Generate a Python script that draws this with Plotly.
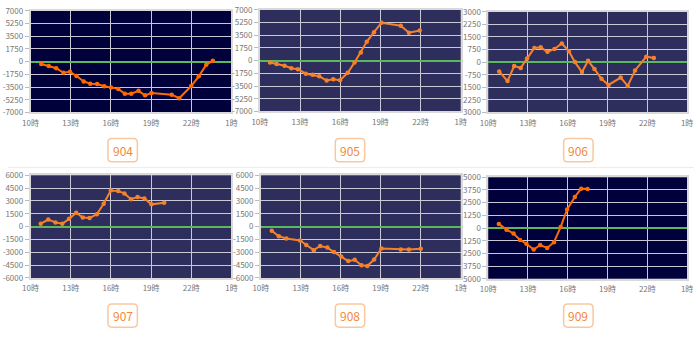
import plotly.graph_objects as go

W, H = 700, 339

# ---------------- data ----------------
x_tickvals = [10, 13, 16, 19, 22, 25]
x_ticktext = ["10時", "13時", "16時", "19時", "22時", "1時"]

labels = ["904", "905", "906", "907", "908", "909"]

t904 = [10.80, 11.36, 11.92, 12.46, 12.95, 13.43, 13.97, 14.46, 14.97, 15.50, 16.01, 16.55,
        17.04, 17.52, 18.06, 18.55, 19.03, 20.54, 21.10, 22.00, 22.56, 23.12, 23.61]
v904 = [-333, -600, -911, -1533, -1400, -1978, -2733, -3044, -3089, -3400, -3578, -3756,
        -4422, -4422, -4022, -4644, -4333, -4556, -5044, -3356, -2022, -422, 111]

t905 = [10.76, 11.25, 11.84, 12.35, 12.84, 13.43, 13.94, 14.43, 14.99, 15.48, 15.99, 16.56,
        17.07, 17.54, 17.98, 18.52, 19.08, 20.52, 21.13, 21.94]
v905 = [-244, -467, -689, -1044, -1178, -1800, -1933, -2156, -2733, -2556, -2689, -1667,
        -244, 1133, 2600, 3933, 5222, 4822, 3844, 4156]

t906 = [10.83, 11.46, 11.96, 12.45, 12.93, 13.48, 13.96, 14.47, 15.00, 15.55, 16.08, 16.54,
        17.07, 17.53, 18.01, 18.54, 19.07, 19.99, 20.52, 21.07, 21.92, 22.49]
v906 = [-556, -1131, -230, -345, 211, 843, 882, 613, 786, 1112, 652, 0,
        -594, 77, -403, -997, -1361, -920, -1418, -498, 326, 249]

t907 = [10.76, 11.32, 11.86, 12.37, 12.88, 13.41, 13.90, 14.41, 14.95, 15.46, 15.99, 16.55,
        17.01, 17.50, 17.99, 18.50, 19.03, 19.98]
v907 = [340, 830, 491, 340, 906, 1623, 1057, 1019, 1434, 2680, 4227, 4151,
        3887, 3208, 3472, 3283, 2604, 2793]

t908 = [10.82, 11.35, 11.91, 12.95, 13.41, 13.97, 14.45, 14.99, 15.49, 16.03, 16.56, 17.04,
        17.55, 17.99, 18.50, 19.05, 20.50, 21.11, 22.00]
v908 = [-491, -1132, -1396, -1623, -2151, -2755, -2264, -2453, -2981, -3510, -4038, -3887,
        -4529, -4604, -3849, -2566, -2680, -2680, -2604]

t909 = [10.80, 11.38, 11.91, 12.40, 12.88, 13.43, 13.92, 14.45, 14.96, 15.46, 15.95, 16.53,
        17.01, 17.49]
v909 = [410, -158, -536, -1167, -1546, -2114, -1672, -1956, -1388, 95, 1830, 3060,
        3881, 3849]

yv_7000 = [-7000, -5250, -3500, -1750, 0, 1750, 3500, 5250, 7000]
yt_7000 = ["-7000", "-5250", "-3500", "-1750", "0", "1750", "3500", "5250", "7000"]
yv_3000 = [-3000, -2250, -1500, -750, 0, 750, 1500, 2250, 3000]
yt_3000 = ["3000", "2250", "1500", "-750", "0", "750", "1500", "2250", "3000"]
yv_6000 = [-6000, -4500, -3000, -1500, 0, 1500, 3000, 4500, 6000]
yt_6000 = ["-6000", "-4500", "-3000", "-1500", "0", "1500", "3000", "4500", "6000"]
yv_5000 = [-5000, -3750, -2500, -1250, 0, 1250, 2500, 3750, 5000]
yt_5000 = ["5000", "3750", "2500", "1250", "0", "1250", "2500", "3750", "5000"]

series = [(t904, v904), (t905, v905), (t906, v906), (t907, v907), (t908, v908), (t909, v909)]
yticks = [(yv_7000, yt_7000), (yv_7000, yt_7000), (yv_3000, yt_3000),
          (yv_6000, yt_6000), (yv_6000, yt_6000), (yv_5000, yt_5000)]

# ---------------- styling / layout ----------------
DARK = "#00003a"
MUTED = "#2e2e5c"
bgs = [DARK, MUTED, MUTED, MUTED, MUTED, DARK]
line_cols = ["#ff6a00", "#f5822a", "#f5822a", "#f5822a", "#f5822a", "#ff6a00"]

# plot-area rectangles in pixels: (left, right, top, bottom)
boxes = [(23, 228, 5, 110), (257, 462, 4, 109), (490, 693, 6, 110),
         (23, 228, 175, 281), (258, 462, 175, 281), (490, 693, 177, 282)]
label_centers = [(117, 149), (349, 149), (582, 149), (117, 320), (349, 320), (582, 320)]

FONT = "Noto Sans CJK SC, Noto Sans, sans-serif"

fig = go.Figure()
layout = dict(
    width=W, height=H, margin=dict(l=0, r=0, t=0, b=0),
    paper_bgcolor="white", plot_bgcolor="white", showlegend=False,
    font=dict(family=FONT, size=8, color="#777777"),
    shapes=[], annotations=[],
)

for i, ((t, v), (yv, yt)) in enumerate(zip(series, yticks)):
    n = "" if i == 0 else str(i + 1)
    xa, ya = "x" + n, "y" + n
    l, r, tp, bt = boxes[i]
    fig.add_trace(go.Scatter(
        x=t, y=v, xaxis=xa, yaxis=ya, mode="lines+markers",
        line=dict(color=line_cols[i], width=2),
        marker=dict(color=line_cols[i], size=4.5),
        hoverinfo="skip",
    ))
    layout["xaxis" + n] = dict(
        domain=[l / W, r / W], anchor=ya, range=[10, 25],
        tickvals=x_tickvals, ticktext=x_ticktext,
        showgrid=True, gridcolor="#c9c9d6", gridwidth=1.3,
        showline=True, mirror=True, linecolor="#d9d9d9", linewidth=1.5,
        ticks="outside", ticklen=2, tickcolor="rgba(0,0,0,0)",
        zeroline=False, fixedrange=True,
        tickfont=dict(size=8, color="#777777"),
    )
    layout["yaxis" + n] = dict(
        domain=[1 - bt / H, 1 - tp / H], anchor=xa, range=[yv[0], yv[-1]],
        tickvals=yv, ticktext=yt,
        showgrid=True, gridcolor="#c9c9d6", gridwidth=1.3,
        showline=True, mirror=True, linecolor="#d9d9d9", linewidth=1.5,
        ticks="outside", ticklen=4, tickcolor="#bbbbbb",
        zeroline=True, zerolinecolor="#5cb85c", zerolinewidth=2,
        fixedrange=True,
        tickfont=dict(size=8, color="#777777"),
    )
    # plot background
    layout["shapes"].append(dict(
        type="rect", xref=xa + " domain", yref=ya + " domain",
        x0=0, x1=1, y0=0, y1=1, fillcolor=bgs[i], line=dict(width=0), layer="below",
    ))
    # rounded label box
    cx, cy = label_centers[i]
    bw, bh, rr = 30, 24, 4
    x0, x1 = (cx - bw / 2), (cx + bw / 2)
    y0, y1 = (cy - bh / 2), (cy + bh / 2)
    def P(px, py):
        return f"{px / W:.5f},{1 - py / H:.5f}"
    path = (f"M {P(x0 + rr, y0)} L {P(x1 - rr, y0)} Q {P(x1, y0)} {P(x1, y0 + rr)} "
            f"L {P(x1, y1 - rr)} Q {P(x1, y1)} {P(x1 - rr, y1)} "
            f"L {P(x0 + rr, y1)} Q {P(x0, y1)} {P(x0, y1 - rr)} "
            f"L {P(x0, y0 + rr)} Q {P(x0, y0)} {P(x0 + rr, y0)} Z")
    layout["shapes"].append(dict(
        type="path", xref="paper", yref="paper", path=path,
        line=dict(color="#f9c8a0", width=1.5), fillcolor="white",
    ))
    layout["annotations"].append(dict(
        x=cx / W, y=1 - cy / H, xref="paper", yref="paper", text=labels[i],
        showarrow=False, font=dict(family=FONT, size=12, color="#f5873a"),
        xanchor="center", yanchor="middle",
    ))

# faint card separators
layout["shapes"].append(dict(type="line", xref="paper", yref="paper",
                             x0=0, x1=1, y0=1 - 167 / H, y1=1 - 167 / H,
                             line=dict(color="#ececec", width=1)))

fig.update_layout(**layout)
fig.write_html("out.html")
